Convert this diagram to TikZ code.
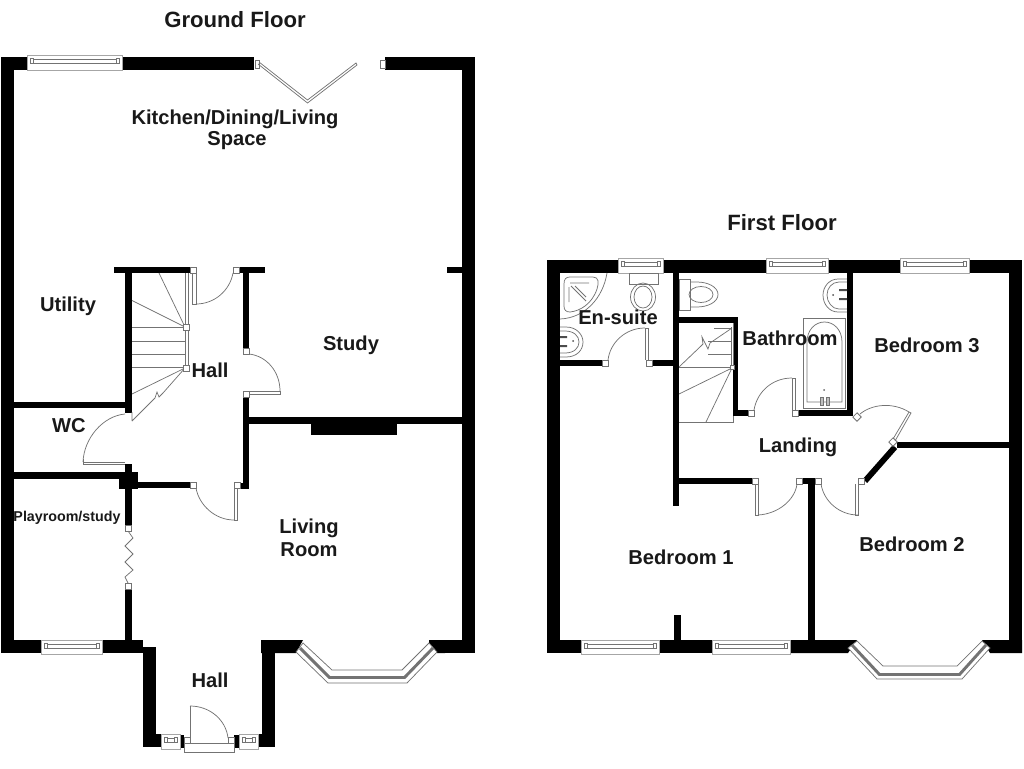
\documentclass[tikz,border=0pt]{standalone}
\usepackage{fontspec}
\setmainfont{Liberation Sans}
\newcommand{\wl}[4]{\fill[black] (#1,#2) rectangle (#3,#4);}
\newcommand{\jb}[2]{\draw[fix,fill=white] (#1-3,#2-3) rectangle (#1+3,#2+3);}
\newcommand{\winh}[4]{% x1 x2 ytop ybot
  \draw[fix,draw=black!35,fill=white] (#1,#3) rectangle (#2,#4);
  \draw[fix] (#1+4,#3+4) rectangle (#2-4,#3+8);
  \draw[fix,fill=white] (#1+3,#3+3.5) rectangle (#1+6,#3+8.5);
  \draw[fix,fill=white] (#2-6,#3+3.5) rectangle (#2-3,#3+8.5);}
\tikzset{
  fix/.style={draw=black!55,line width=0.55pt},
  lbl/.style={font=\bfseries\fontsize{15.1}{17}\selectfont,text=black!90,inner sep=0pt,yshift=-1.2pt},
  ttl/.style={font=\bfseries\fontsize{16.6}{18}\selectfont,text=black!90,inner sep=0pt,yshift=-0.8pt},
}
\begin{document}
\begin{tikzpicture}[x=0.75pt,y=-0.75pt]
\useasboundingbox (0,0) rectangle (1024,768);
% ===== GROUND FLOOR =====
\wl{1}{57}{254}{70}\wl{385}{57}{475}{70}
\wl{1}{57}{14}{653}\wl{462}{57}{475}{653}
\wl{1}{640}{143}{653}\wl{429}{640}{475}{653}
\fill[black] (261,640)--(303,640)--(296,653)--(261,653)--cycle;
\fill[black] (429,640)--(437,653)--(445,653)--(445,640)--cycle;
\wl{143}{647}{156}{747}\wl{262}{640}{275}{747}
\wl{143}{734}{161}{747}\wl{258}{734}{275}{747}
\wl{179}{735}{184}{748}\wl{234}{735}{239}{748}
% internal
\wl{114}{267}{190}{273}\wl{239}{267}{265}{273}
\wl{125}{267}{132}{413}\wl{14}{402}{132}{408}
\wl{243}{267}{249}{348}\wl{243}{397}{249}{489}
\wl{249}{417}{462}{424}\wl{311}{417}{397}{435}
\wl{447}{267}{462}{273}
\wl{14}{472}{120}{479}\wl{119}{472}{138}{489}\wl{125}{464}{132}{472}
\wl{132}{482}{190}{488}\wl{237}{483}{249}{489}
\wl{125}{489}{132}{525}\wl{125}{589}{132}{640}
% windows
\winh{27}{122}{55}{70}
\winh{41}{102}{640}{654}
\winh{161}{180}{734}{749}
\winh{239}{258}{734}{749}
% french doors
\draw[fix,fill=white] (255,60) rectangle (259,68);
\draw[fix,fill=white] (380,60) rectangle (385,68);
\draw[fix] (259,62)--(307.5,100)--(356,63)--(357,65)--(307.5,103)--(258,64);
% bay ground
\draw[fix,fill=white] (296,652)--(328,683)--(407,683)--(437,652)--(429,643)--(402,670)--(332,670)--(303,643)--cycle;
\draw[black!55,line width=2.2pt] (300,648)--(329.5,677.5)--(404.5,677.5)--(433,648);
% hall top door
\jb{193}{270}\jb{236}{270}
\draw[fix] (192,273)--(192,304)--(196,304)--(196,273);
\draw[fix] (196,304) .. controls (215,304) and (230,290) .. (233,273);
% study door
\jb{246}{351}\jb{246}{394}
\draw[fix] (249,391)--(280,391) (249,394)--(280,394)--(280,391);
\draw[fix] (249,354) .. controls (267,356) and (280,372) .. (280,391);
% WC door
\draw[fix] (125,462)--(83,462)--(83,459);
\draw[fix] (125,464)--(83,464)--(83,462);
\draw[fix] (83,462) .. controls (84,438) and (103,416) .. (125,414);
% stairs
\draw[fix] (185,273)--(185,368) (188,273)--(188,368);
\foreach \yy in {327,341,354,367} {\draw[fix] (132,\yy)--(185,\yy);}
\draw[fix] (132,300.5)--(185,327);
\draw[fix] (159,273)--(185,327);
\draw[fix] (132,394)--(185,368);
\draw[fix] (132,421)--(132,412) (132,421)--(155,398)--(157,392)--(159,397)--(163,393)--(185,368);
\jb{186}{327}\jb{186}{368}
% living door
\jb{193}{485}\jb{237}{485}
\draw[fix] (234,488)--(234,520) (237,488)--(237,520)--(234,520);
\draw[fix] (234,520) .. controls (215,520) and (199,505) .. (196,488);
% accordion
\jb{128}{528}\jb{128}{586}
\draw[fix] (128,531)--(133,538)--(125,546)--(133,554)--(125,562)--(133,570)--(125,577)--(128,583);
% front door
\draw[fix,fill=white] (184,743) rectangle (234,752);
\draw[fix,fill=white] (184,737) rectangle (190,743);
\draw[fix,fill=white] (228,737) rectangle (234,743);
\draw[fix] (190,737)--(190,706);
\draw[fix] (190,706) .. controls (210,706) and (226,720) .. (228,738);
% ===== FIRST FLOOR =====
\wl{547}{260}{1022}{273}
\wl{547}{260}{560}{653}\wl{1009}{260}{1022}{653}
\wl{547}{640}{790}{653}
\fill[black] (790,640)--(857,640)--(848,653)--(790,653)--cycle;
\fill[black] (982,640)--(1022,640)--(1022,653)--(990,653)--cycle;
\wl{674}{615}{681}{640}
\wl{808}{478}{815}{640}\wl{802}{478}{815}{484}
\wl{673}{273}{679}{506}
\wl{560}{360}{602}{366}\wl{652}{360}{673}{366}
\wl{678}{317}{738}{323}\wl{733}{317}{738}{416}\wl{733}{410}{748}{416}
\wl{798}{410}{853}{416}\wl{847}{273}{853}{416}
\wl{897}{442}{1009}{448}
\draw[black,line width=4.4pt] (895,447)--(865,481);
\wl{679}{478}{752}{484}
% first floor windows
\winh{618}{663}{258}{273}
\winh{766}{828}{258}{273}
\winh{900}{969}{258}{273}
\winh{581}{659}{640}{654}
\winh{712}{790}{640}{654}
% bay first
\draw[fix,fill=white] (848,648)--(877,679)--(962,679)--(990,648)--(982,641)--(957,666)--(883,666)--(857,641)--cycle;
\draw[black!55,line width=2.2pt] (852,645)--(879.5,674.5)--(959.5,674.5)--(986,645);
% doors first
\jb{605}{363}\jb{649}{363}
\draw[fix] (645,360)--(645,328)--(648,328)--(648,360);
\draw[fix] (645,328) .. controls (625,328) and (610,343) .. (608,360);
\jb{751}{413}\jb{795}{413}
\draw[fix] (792,410)--(792,378)--(795,378)--(795,410);
\draw[fix] (792,378) .. controls (772,378) and (757,392) .. (754,410);
\jb{755}{481}\jb{799}{481}\jb{818}{481}\jb{861}{481}
\draw[fix] (755,484)--(755,515)--(758,515)--(758,484);
\draw[fix] (758,515) .. controls (778,514) and (795,500) .. (797,484);
\draw[fix] (858,484)--(858,515)--(855,515)--(855,484);
\draw[fix] (858,515) .. controls (840,515) and (824,502) .. (821,484);
\draw[fix,fill=white,rotate around={45:(857,417)}] (854,414) rectangle (860,420);
\draw[fix,fill=white,rotate around={45:(893,442)}] (890,439) rectangle (896,445);
\draw[fix] (893,439)--(909,412)--(911,413)--(895,441);
\draw[fix] (909,412) .. controls (893,402) and (872,404) .. (860,414);
% stairs first
\draw[fix] (679,422)--(733,422)--(733,416);
\draw[fix] (731,327)--(731,367) (733,323)--(733,367);
\draw[fix] (679,367)--(732,367);
\foreach \yy in {354,341} {\draw[fix] (708,\yy)--(732,\yy);}
\draw[fix] (714,328)--(732,328);
\draw[fix] (679,367)--(701,346)--(703,344)--(702,337)--(708,349)--(710,343)--(732,328);
\draw[fix] (679,394)--(732,368);
\draw[fix] (706,422)--(732,368);
\draw[fix,fill=white] (730,365) rectangle (734,369);
% en-suite fittings
\draw[fix] (564,284) .. controls (564,279) and (566,277) .. (570,277) -- (593,277) .. controls (599,277) and (599,283) .. (597,289) .. controls (592,304) and (580,311) .. (570,312) .. controls (566,312) and (564,310) .. (564,306) -- cycle;
\draw[fix] (560,319) .. controls (585,318) and (603,298) .. (607,273);
\draw[fix] (569,287)--(569,302) (570,283)--(589,283) (571,286)--(586,301) (575,286)--(586,297);
\draw[fix] (629,273) rectangle (658,284);
\draw[fix] (643,297) ellipse (12.5 and 14);
\draw[fix] (643,297) ellipse (9 and 11);
\draw[fix] (560,327)--(566,327) .. controls (577,327) and (583,335) .. (583,342) .. controls (583,350) and (577,357) .. (566,357) -- (560,357);
\draw[fix] (560,331)--(565,331) .. controls (574,331) and (579,336) .. (579,342) .. controls (579,348) and (574,353) .. (565,353) -- (560,353);
\fill[black!70] (560,336) rectangle (567,338) (560,345) rectangle (567,347);
\fill[black!70] (573,341) circle (1);
% bathroom fittings
\draw[fix] (679,279) rectangle (690,310);
\draw[fix] (690,282) -- (697,282) .. controls (708,282) and (718,287) .. (718,294.5) .. controls (718,302) and (708,307) .. (697,307) -- (690,307);
\draw[fix] (701,294.5) ellipse (12 and 8);
\draw[fix] (847,279) -- (838,279) .. controls (829,279) and (823,287) .. (823,295) .. controls (823,304) and (829,312) .. (838,312) -- (847,312);
\draw[fix] (847,282) -- (839,282) .. controls (832,282) and (827,288) .. (827,295) .. controls (827,302) and (832,309) .. (839,309) -- (847,309);
\fill[black!70] (839,289) rectangle (847,291) (839,298) rectangle (847,300);
\fill[black!70] (833,295) circle (1);
\draw[fix] (803,318) rectangle (845,408);
\draw[fix] (807,402)--(807,342) .. controls (807,330) and (815,322) .. (824.5,322) .. controls (834,322) and (842,330) .. (842,342) -- (842,402) -- cycle;
\fill[black!60] (824,390) circle (1);
\draw[fix,fill=black!25] (820,397) rectangle (823,405);
\draw[fix,fill=black!25] (826,397) rectangle (829,405);
% ===== LABELS =====
\node[ttl] (gf) at (235,19) {Ground Floor};
\node[ttl] (ff) at (782,222) {First Floor};
\node[lbl] (kit) at (235,118) {Kitchen/Dining/Living};
\node[lbl] (spc) at (237,139) {Space};
\node[lbl] (uti) at (68,305) {Utility};
\node[lbl] (stu) at (351,344) {Study};
\node[lbl] (ha1) at (210,369) {Hall};
\node[lbl] (wc) at (69,424) {WC};
\node[font=\bfseries\fontsize{10.7}{12}\selectfont,text=black!90,inner sep=0pt] (pla) at (67,518) {Playroom/study};
\node[lbl] (liv) at (309,527) {Living};
\node[lbl] (roo) at (309,548) {Room};
\node[lbl] (ha2) at (210,679) {Hall};
\node[lbl] (ens) at (618,316) {En-suite};
\node[lbl] (bat) at (790,337) {Bathroom};
\node[lbl] (be3) at (927,344) {Bedroom 3};
\node[lbl] (lan) at (798,446) {Landing};
\node[lbl] (be1) at (681,556) {Bedroom 1};
\node[lbl] (be2) at (912,543) {Bedroom 2};
\end{tikzpicture}
\end{document}
